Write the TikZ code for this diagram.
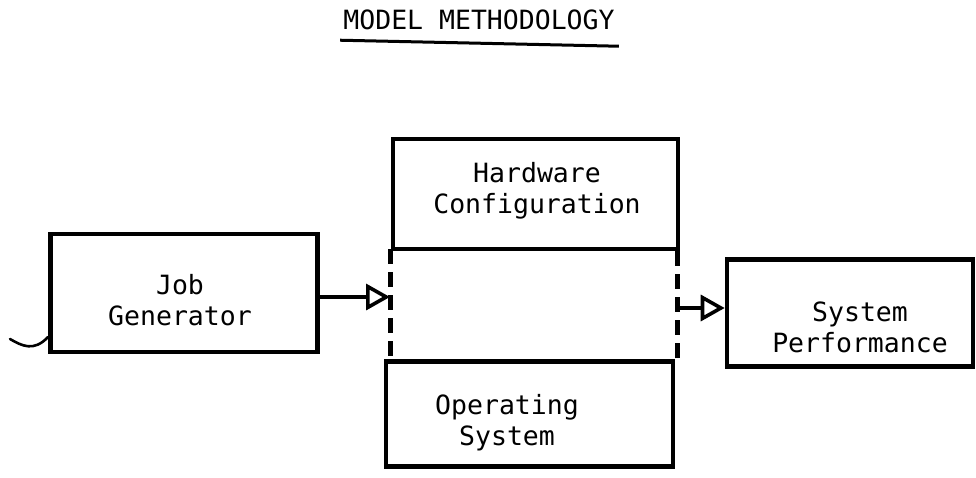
\documentclass[tikz,border=0pt]{standalone}
\usepackage{fontspec}
\setmonofont{DejaVu Sans Mono}
\usetikzlibrary{arrows.meta}
\begin{document}
\begin{tikzpicture}[x=1pt,y=-1pt,
  box/.style={draw, line width=4.6pt, inner sep=0pt},
  lbl/.style={font=\fontsize{26.5}{31}\selectfont\ttfamily, align=center, inner sep=0pt},
  dline/.style={line width=5pt, dash pattern=on 15pt off 8pt},
  arr/.style={line width=3.6pt, -{Triangle[open, length=24pt, width=26pt, line width=3.6pt]}}]
\useasboundingbox (0,0) rectangle (976,477);
% title
\node[lbl] (title) at (479,20) {MODEL METHODOLOGY};
\draw[line width=3pt] ([xshift=-3pt,yshift=-10pt]title.south west) -- ([xshift=4pt,yshift=-16pt]title.south east);
% boxes
\node[box, minimum width=267pt, minimum height=118pt] (jg) at (184,293) {};
\node[box, minimum width=285pt, minimum height=110pt] (hw) at (535.5,194) {};
\node[box, minimum width=287pt, minimum height=105pt] (os) at (529.5,414) {};
\node[box, minimum width=246pt, minimum height=107pt] (sp) at (850,313) {};
% texts
\node[lbl] (jgt) at (180,300) {Job\\Generator};
\node[lbl] (hwt) at (537,191) {Hardware\\Configuration};
\node[lbl] (ost) at (507,423) {Operating\\System};
\node[lbl] (spt) at (860,327) {System\\Performance};
% dashed connections
\coordinate (dl1) at (390,249);
\coordinate (dl2) at (390,359);
\coordinate (dr1) at (677,251);
\coordinate (dr2) at (677,364);
\draw[dline] (dl1) -- (dl2);
\draw[dline] (dr1) -- (dr2);
% arrows
\coordinate (a1) at (390,297);
\coordinate (a2s) at (677,308);
\draw[arr] (jg.east |- a1) -- (a1);
\draw[arr] (a2s) -- (sp.west |- a2s);
% hook mark
\coordinate (h0) at (10,339);
\coordinate (h1) at (48,337);
\draw[line width=2.6pt, line cap=round] (h0) .. controls (22,346) and (34,352) .. (h1);
\end{tikzpicture}
\end{document}
